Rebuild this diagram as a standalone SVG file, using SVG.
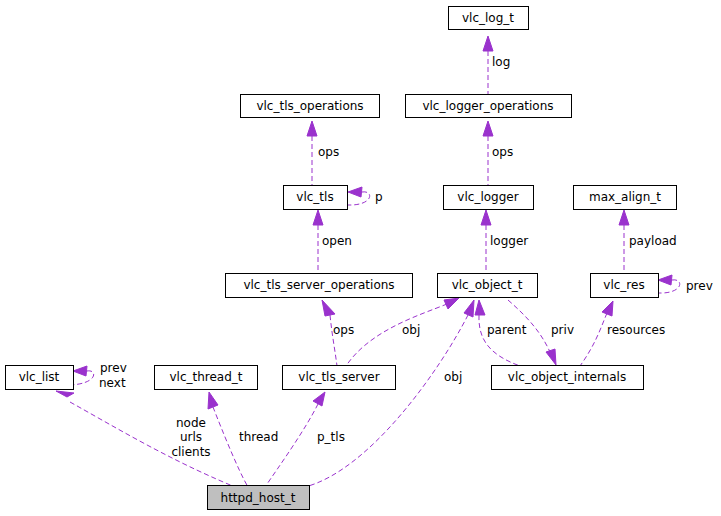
<svg xmlns="http://www.w3.org/2000/svg" width="721" height="516" viewBox="0 0 721 516">
<defs>
<style>
.n rect{fill:#fff;stroke:#000;stroke-width:1}
text{font-family:"DejaVu Sans",sans-serif;font-size:12px;fill:#000}
.n text{text-anchor:middle}
.e path{fill:none;stroke:#9a32cd;stroke-width:1;stroke-dasharray:5,3}
.e polygon{fill:#9a32cd;stroke:#9a32cd}
</style>
</defs>
<rect width="721" height="516" fill="#fff"/>
<g class="e">
<path d="M488,51 V94"/><polygon points="483,51 488,36 493,51"/><text x="492" y="66">log</text>
<path d="M312,136 V185"/><polygon points="307,136 312,121 317,136"/><text x="318" y="156">ops</text>
<path d="M488,136 V185"/><polygon points="483,136 488,121 493,136"/><text x="492" y="156">ops</text>
<path d="M362,192 C374,190 374,206 347,205"/><polygon points="362,187 348,192 361,197"/><text x="375" y="201">p</text>
<path d="M318,225 V273"/><polygon points="313,225 318,210 323,225"/><text x="322" y="245">open</text>
<path d="M486,225 V273"/><polygon points="481,225 486,210 491,225"/><text x="490" y="245">logger</text>
<path d="M624,225 V273"/><polygon points="619,225 624,210 629,225"/><text x="629" y="245">payload</text>
<path d="M672,280 C684,278 684,294 658,293"/><polygon points="672,275 658,280 671,285"/><text x="686" y="290">prev</text>
<path d="M330,315 C332,335 335,350 337,366"/><polygon points="325,316 322,300 335,314"/><text x="333" y="334">ops</text>
<path d="M447,304 C420,315 370,330 346,366"/><polygon points="444,300 459,298 448,309"/><text x="402" y="334">obj</text>
<path d="M479,315 C478,340 490,355 520,366"/><polygon points="475,315 479,300 485,315"/><text x="487" y="334">parent</text>
<path d="M508,300 C525,315 540,330 550,352"/><polygon points="546,352 556,365 555,349"/><text x="551" y="334">priv</text>
<path d="M607,313 C600,330 595,345 580,366"/><polygon points="602,312 613,301 612,316"/><text x="607" y="334">resources</text>
<path d="M87,371 C98,369 98,385 67,385"/><polygon points="87,366 73,371 86,376"/><text x="100" y="372">prev</text><text x="99" y="387">next</text>
<path d="M70,402 C120,430 170,460 235,487"/><polygon points="67,397 56,391 74,393"/><text x="191" y="427" text-anchor="middle">node</text><text x="191" y="441" text-anchor="middle">urls</text><text x="191" y="456" text-anchor="middle">clients</text>
<path d="M213,407 C222,430 238,470 248,487"/><polygon points="208,409 209,392 218,405"/><text x="239" y="441">thread</text>
<path d="M318,404 C305,430 280,465 265,487"/><polygon points="313,401 325,392 322,406"/><text x="317" y="441">p_tls</text>
<path d="M468,315 C440,370 370,470 305,487"/><polygon points="464,313 474,300 473,317"/><text x="444" y="381">obj</text>
</g>
<g id="vlc_log_t" class="n"><rect x="448.5" y="6.5" width="80" height="23"/><text x="488" y="22">vlc_log_t</text></g>
<g id="vlc_tls_operations" class="n"><rect x="240.5" y="94.5" width="139" height="23"/><text x="310" y="110">vlc_tls_operations</text></g>
<g id="vlc_logger_operations" class="n"><rect x="405.5" y="94.5" width="166" height="23"/><text x="488" y="110">vlc_logger_operations</text></g>
<g id="vlc_tls" class="n"><rect x="283.5" y="185.5" width="64" height="24"/><text x="315" y="201">vlc_tls</text></g>
<g id="vlc_logger" class="n"><rect x="443.5" y="185.5" width="90" height="24"/><text x="488" y="201">vlc_logger</text></g>
<g id="max_align_t" class="n"><rect x="573.5" y="185.5" width="103" height="24"/><text x="625" y="201">max_align_t</text></g>
<g id="vlc_tls_server_operations" class="n"><rect x="225.5" y="273.5" width="187" height="24"/><text x="319" y="289">vlc_tls_server_operations</text></g>
<g id="vlc_object_t" class="n"><rect x="437.5" y="273.5" width="100" height="24"/><text x="487" y="289">vlc_object_t</text></g>
<g id="vlc_res" class="n"><rect x="590.5" y="273.5" width="68" height="24"/><text x="624" y="289">vlc_res</text></g>
<g id="vlc_list" class="n"><rect x="5.5" y="365.5" width="68" height="24"/><text x="39" y="381">vlc_list</text></g>
<g id="vlc_thread_t" class="n"><rect x="154.5" y="365.5" width="103" height="24"/><text x="206" y="381">vlc_thread_t</text></g>
<g id="vlc_tls_server" class="n"><rect x="282.5" y="365.5" width="113" height="24"/><text x="339" y="381">vlc_tls_server</text></g>
<g id="vlc_object_internals" class="n"><rect x="491.5" y="365.5" width="152" height="24"/><text x="567" y="381">vlc_object_internals</text></g>
<g id="httpd_host_t" class="n"><rect x="207.5" y="485.5" width="102" height="24" style="fill:#bfbfbf"/><text x="258" y="502">httpd_host_t</text></g>
</svg>
